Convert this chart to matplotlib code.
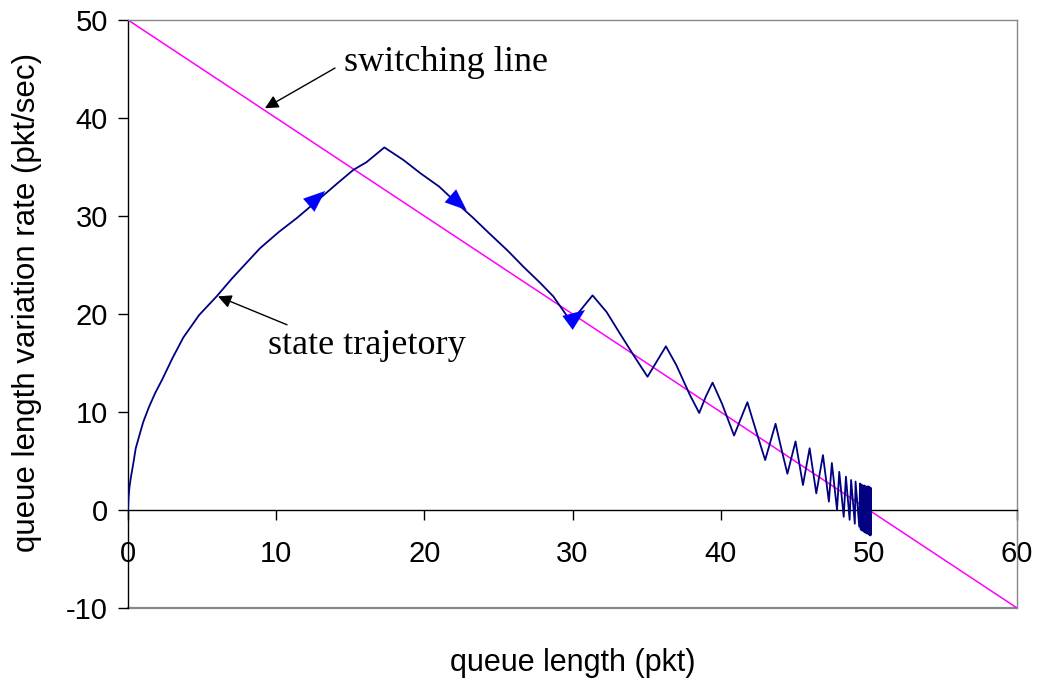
import numpy as np
import matplotlib.pyplot as plt

plt.rcParams['axes.unicode_minus'] = False
plt.rcParams['font.family'] = ['Liberation Sans', 'DejaVu Sans']

# switching line end points
switch_x = [0, 60]
switch_y = [50, -10]

# state trajectory (queue length, queue length variation rate)
traj_x = [0, 0.03, 0.1, 0.2, 0.36, 0.52, 0.8, 1.03, 1.41, 1.82, 2.3, 3.0, 3.73, 4.8, 5.98,
          7.0, 8.9, 10.2, 11.4, 12.95, 14.1, 15.2, 16.1, 17.3, 18.6, 19.7, 21.0, 22.2,
          23.3, 24.4, 25.6, 26.7, 27.8, 28.7, 29.3, 29.9, 30.6, 31.35, 32.3, 33.2, 34.2,
          35.06, 35.7, 36.3, 37.0, 37.9, 38.55, 39.0, 39.45, 40.1, 40.9, 41.8, 42.4, 43.0,
          43.7, 44.1, 44.5, 45.05, 45.55, 46.0, 46.45, 46.9, 47.3, 47.5, 47.85, 48.0, 48.3,
          48.45, 48.7, 48.8, 49.05, 49.1, 49.35,
          49.4, 49.45, 49.5, 49.55, 49.6, 49.65, 49.7, 49.75, 49.8, 49.85, 49.9, 49.93,
          49.97, 50.0, 50.03, 50.06, 50.08, 50.1, 50.12, 50.14, 50.15]
traj_y = [0, 1.2, 2.4, 3.4, 4.8, 6.3, 7.8, 9.0, 10.5, 11.9, 13.3, 15.5, 17.6, 19.9, 21.8,
          23.6, 26.7, 28.4, 29.8, 31.8, 33.3, 34.7, 35.5, 37.0, 35.7, 34.4, 33.0, 31.3,
          29.8, 28.2, 26.5, 24.8, 23.2, 21.8, 20.5, 19.2, 20.5, 21.9, 20.2, 18.0, 15.6,
          13.6, 15.2, 16.7, 14.8, 11.8, 9.9, 11.6, 13.0, 10.8, 7.6, 11.0, 8.0, 5.1,
          8.8, 6.2, 3.7, 7.0, 2.55, 6.3, 1.7, 5.6, 0.85, 4.8, 0.0, 3.9, -0.7,
          3.4, -1.0, 3.06, -1.4, 2.9, -1.7,
          2.7, -2.0, 2.6, -2.1, 2.5, -2.2, 2.5, -2.3, 2.4, -2.4, 2.4, -2.4,
          2.4, -2.5, 2.3, -2.5, 2.3, -2.6, 2.2, -2.5, 2.2]

# direction arrows on the trajectory: (tail x, tail y, tip x, tip y)
dir_arrows = [(12.5, 31.5, 13.3, 32.55),
              (21.95, 31.8, 22.85, 30.6),
              (29.94, 19.4, 30.84, 20.4)]

fig = plt.figure(figsize=(10.41, 6.81), dpi=100)
ax = fig.add_axes([0.123, 0.1072, 0.854, 0.8634])

ax.plot(switch_x, switch_y, color='#FF00FF', lw=1.1, zorder=2)
ax.plot(traj_x, traj_y, color='#000080', lw=1.3, zorder=3)

for x0, y0, x1, y1 in dir_arrows:
    ax.annotate('', xy=(x1, y1), xytext=(x0, y0),
                arrowprops=dict(arrowstyle='-|>,head_length=0.55,head_width=0.22',
                                color='#0000FF', lw=0.1,
                                mutation_scale=28, shrinkA=0, shrinkB=0), zorder=4)

ax.set_xlim(0, 60)
ax.set_ylim(-10, 50)
ax.set_xticks(range(0, 61, 10))
ax.set_yticks(range(-10, 51, 10))

# x axis drawn at y=0, box lines in gray
ax.spines['bottom'].set_position(('data', 0))
ax.spines['bottom'].set_color('black')
ax.spines['left'].set_color('black')
ax.spines['top'].set_color('#888888')
ax.spines['right'].set_color('#888888')
for s in ax.spines.values():
    s.set_linewidth(1.0)
ax.axhline(-10, color='#888888', lw=1.6, clip_on=False, zorder=1)
ax.tick_params(axis='x', direction='out', length=7.5, width=1, pad=14, labelsize=21)
ax.tick_params(axis='y', direction='out', length=7.5, width=1, pad=7, labelsize=21)

ax.set_xlabel('queue length (pkt)', fontsize=22)
ax.xaxis.set_label_coords(0.5, -0.068)
ax.set_ylabel('queue length variation rate (pkt/sec)', fontsize=22.5)
ax.yaxis.set_label_coords(-0.097, 0.52)

# annotations
serif = 'Liberation Serif'
ax.text(14.6, 45.7, 'switching line', fontfamily=serif, fontsize=26, ha='left', va='center')
ax.annotate('', xy=(9.24, 41.0), xytext=(13.97, 45.1),
            arrowprops=dict(arrowstyle='-|>', color='black', lw=1.0,
                            mutation_scale=20, shrinkA=0, shrinkB=0))
ax.text(9.45, 16.8, 'state trajetory', fontfamily=serif, fontsize=26, ha='left', va='center')
ax.annotate('', xy=(6.07, 21.8), xytext=(10.73, 18.9),
            arrowprops=dict(arrowstyle='-|>', color='black', lw=1.0,
                            mutation_scale=20, shrinkA=0, shrinkB=0))

fig.savefig('out.png', dpi=100)
